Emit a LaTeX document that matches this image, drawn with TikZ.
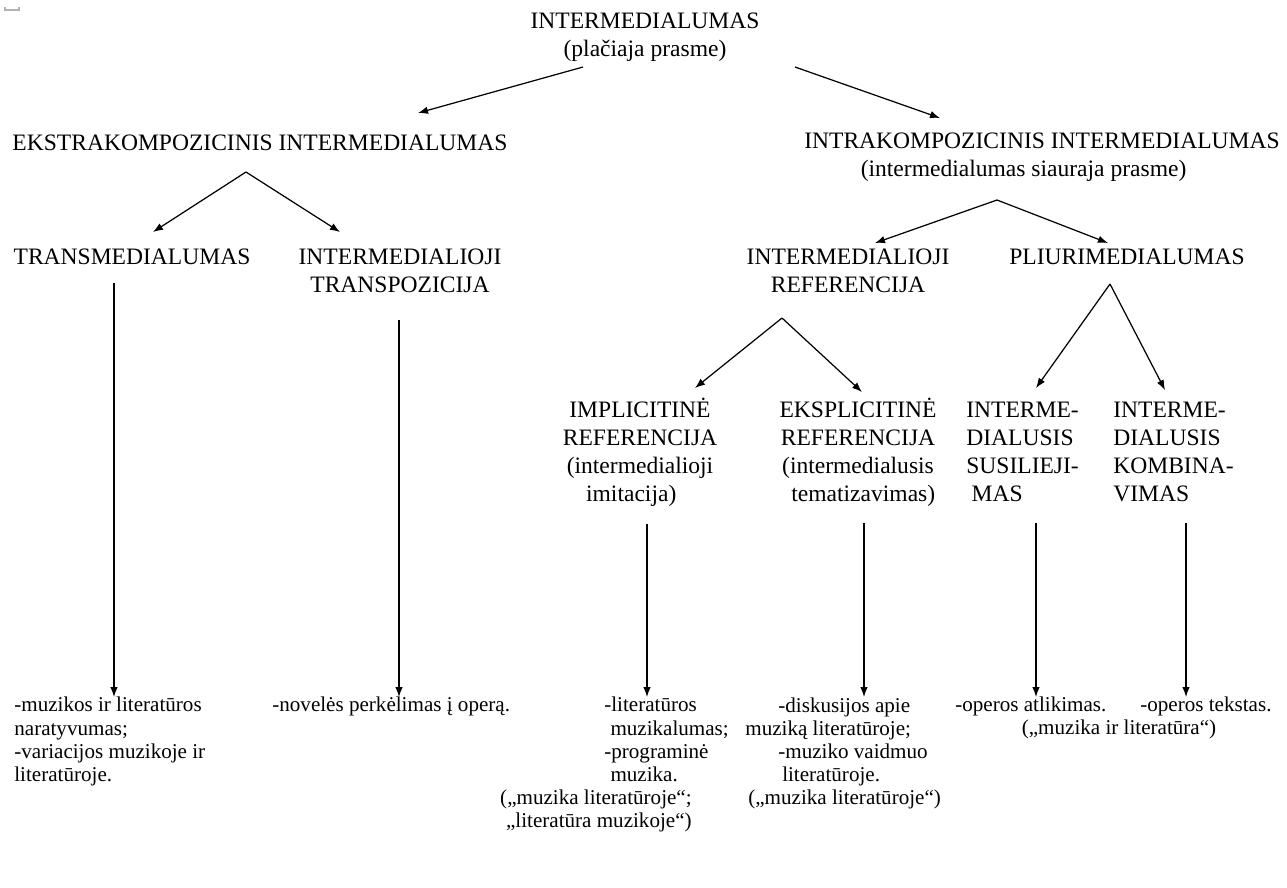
\documentclass[tikz,border=0pt]{standalone}
\usepackage{fontspec}
\setmainfont{Liberation Serif}
\usetikzlibrary{arrows.meta}
\tikzset{
  lbl/.style={inner sep=0pt, align=center, font=\fontsize{13.4}{15.9}\selectfont},
  res/.style={inner sep=0pt, font=\fontsize{12}{13.1}\selectfont},
  arr/.style={-{Latex[length=0.2cm,width=0.15cm]}, line width=0.7pt},
}
\begin{document}
\begin{tikzpicture}[x=0.02cm, y=-0.02cm]
      \useasboundingbox (0,0) rectangle (1287,887);
      \draw[gray!60, line width=0.8pt] (5,7) -- (5,10) -- (19,10) -- (19,7);
      % labels
      \node[lbl] (root) at (645,37) {INTERMEDIALUMAS\\(plačiaja prasme)};
      \node[lbl] (ekstra) at (260,143) {EKSTRAKOMPOZICINIS INTERMEDIALUMAS};
      \node[lbl] (intra) at (1042,157) {INTRAKOMPOZICINIS INTERMEDIALUMAS\\(intermedialumas siauraja prasme)\hspace*{21pt}};
      \node[lbl] (trans) at (132,257) {TRANSMEDIALUMAS};
      \node[lbl] (transpoz) at (400,271) {INTERMEDIALIOJI\\TRANSPOZICIJA};
      \node[lbl] (ref) at (848,271) {INTERMEDIALIOJI\\REFERENCIJA};
      \node[lbl] (pliuri) at (1127,257) {PLIURIMEDIALUMAS};
      \node[lbl] (impl) at (640,452) {IMPLICITINĖ\\REFERENCIJA\\(intermedialioji\\imitacija)\hspace*{10pt}};
      \node[lbl] (expl) at (858,452) {EKSPLICITINĖ\\REFERENCIJA\\(intermedialusis\\\hspace*{6pt}tematizavimas)};
      \node[lbl, anchor=west, align=left] (fusion) at (966,452) {INTERME-\\DIALUSIS\\SUSILIEJI-\\\hspace*{3pt}MAS};
      \node[lbl, anchor=west, align=left] (combi) at (1113,452) {INTERME-\\DIALUSIS\\KOMBINA-\\VIMAS};
      % results
      \node[res, anchor=north west, align=left] (narr) at (14,697) {-muzikos ir literatūros\\naratyvumas;\\-variacijos muzikoje ir\\literatūroje.};
      \node[res, anchor=north west] (novel) at (272,697) {-novelės perkėlimas į operą.};
      \node[res, anchor=north west, align=left] (musical) at (604,697) {-literatūros\\\hspace*{3.5pt}muzikalumas;\\-programinė\\\hspace*{3.5pt}muzika.};
      \node[res, anchor=north east, align=right] (musical-q) at (692,789) {(„muzika literatūroje“;\\„literatūra muzikoje“)};
      \node[res, anchor=north west, align=left] (discuss) at (745,697) {\hspace*{18.8pt}-diskusijos apie\\muziką literatūroje;\\\hspace*{18.8pt}-muziko vaidmuo\\\hspace*{21pt}literatūroje.\\\hspace*{1.7pt}(„muzika literatūroje“)};
      \node[res, anchor=north west] (perform) at (955,697) {-operos atlikimas.};
      \node[res, anchor=north west] (libretto) at (1140,697) {-operos tekstas.};
      \node[res, anchor=north] (opera-q) at (1119,720) {(„muzika ir literatūra“)};
      % fork points
      \coordinate (root-l) at (583,67);
      \coordinate (root-r) at (795,67);
      \coordinate (ekstra-fork) at (246,172);
      \coordinate (intra-fork) at (997,200);
      \coordinate (ref-fork) at (782,318);
      \coordinate (pliuri-fork) at (1110,284);
      \coordinate (ekstra-in) at (418,113);
      \coordinate (intra-in) at (940,118);
      \coordinate (trans-in) at (153,232);
      \coordinate (transpoz-in) at (340,232);
      \coordinate (ref-in) at (875,243);
      \coordinate (pliuri-in) at (1108,243);
      \coordinate (impl-in) at (695,388);
      \coordinate (expl-in) at (862,392);
      \coordinate (fusion-in) at (1036,388);
      \coordinate (combi-in) at (1165,390);
      \coordinate (trans-out) at (114,283);
      \coordinate (transpoz-out) at (399,320);
      \coordinate (impl-out) at (647,524);
      \coordinate (expl-out) at (864,523);
      \coordinate (fusion-out) at (1036,523);
      \coordinate (combi-out) at (1186,523);
      \begin{scope}[arr]
        \draw (root-l) to (ekstra-in);
        \draw (root-r) to (intra-in);
        \draw (ekstra-fork) to (trans-in);
        \draw (ekstra-fork) to (transpoz-in);
        \draw (intra-fork) to (ref-in);
        \draw (intra-fork) to (pliuri-in);
        \draw (ref-fork) to (impl-in);
        \draw (ref-fork) to (expl-in);
        \draw (pliuri-fork) to (fusion-in);
        \draw (pliuri-fork) to (combi-in);
        \draw (trans-out) to (trans-out |- narr.north);
        \draw (transpoz-out) to (transpoz-out |- novel.north);
        \draw (impl-out) to (impl-out |- musical.north);
        \draw (expl-out) to (expl-out |- discuss.north);
        \draw (fusion-out) to (fusion-out |- perform.north);
        \draw (combi-out) to (combi-out |- libretto.north);
      \end{scope}
    \end{tikzpicture}
\end{document}
